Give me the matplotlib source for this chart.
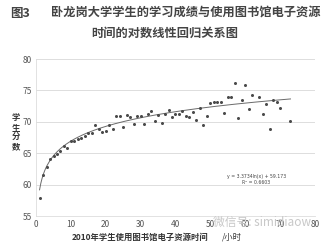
import numpy as np
import matplotlib
matplotlib.use("Agg")
import matplotlib.pyplot as plt

plt.rcParams['font.family'] = ['Noto Sans CJK SC', 'DejaVu Sans']

# hours of e-resource use vs mean student score
hours = [1, 2, 3, 4, 5, 6, 7, 8, 9, 10, 11, 12, 13, 14, 15, 16, 17, 18, 19, 20,
         21, 22, 23, 24, 25, 26, 27, 28, 29, 30, 31, 32, 33, 34, 35, 36, 37, 38, 39, 40,
         41, 42, 43, 44, 45, 46, 47, 48, 49, 50, 51, 52, 53, 54, 55, 56, 57, 58, 59, 60,
         61, 62, 64, 65, 66, 67, 68, 69, 70, 73]
scores = [57.8, 61.6, 62.8, 64.1, 64.5, 64.9, 65.3, 66.2, 65.8, 66.9,
          67.0, 67.2, 67.4, 67.7, 68.2, 68.2, 69.5, 68.9, 68.4, 68.6,
          69.5, 68.8, 70.9, 71.0, 69.1, 71.1, 70.8, 69.6, 71.0, 71.0,
          69.6, 71.2, 71.8, 70.2, 71.1, 69.8, 71.2, 71.9, 70.8, 71.2,
          71.2, 71.8, 71.0, 70.8, 71.6, 70.3, 72.2, 69.5, 71.0, 73.0,
          73.1, 73.1, 73.2, 71.4, 74.0, 74.0, 76.2, 70.6, 73.4, 75.8,
          72.0, 74.2, 74.0, 71.2, 72.9, 68.8, 73.4, 73.1, 72.2, 70.1]

# log trendline as printed on the chart
coef_a = 3.3734
coef_b = 59.173
r_squared = 0.6603

x_ticks = [0, 10, 20, 30, 40, 50, 60, 70, 80]
y_ticks = [55, 60, 65, 70, 75, 80]

fig = plt.figure(figsize=(3.28, 2.43), dpi=100)
ax = fig.add_axes([0.110, 0.111, 0.850, 0.646])

ax.plot(hours, scores, 'o', ms=2.2, color='#4a4a4a', mec='none', zorder=3)

xs = np.linspace(min(hours), max(hours), 200)
ax.plot(xs, coef_a*np.log(xs) + coef_b, color='#6a6a6a', lw=0.7, zorder=2)

ax.set_xlim(0, 80)
ax.set_ylim(55, 80)
ax.set_xticks(x_ticks)
ax.set_yticks(y_ticks)
ax.tick_params(length=0, labelsize=6, colors='#555555', pad=3)
ax.grid(axis='y', color='#d8d8d8', lw=0.6)
ax.set_axisbelow(True)
for s in ['top', 'right']:
    ax.spines[s].set_visible(False)
ax.spines['left'].set_color('#dddddd')
ax.spines['bottom'].set_color('#dddddd')
ax.spines['left'].set_linewidth(0.6)
ax.spines['bottom'].set_linewidth(0.6)

ax.text(0.79, 0.235, f"y = {coef_a}ln(x) + {coef_b}\nR² = {r_squared}",
        transform=ax.transAxes, fontsize=3.3, color='#444444',
        ha='center', va='center', linespacing=1.3, family='DejaVu Sans')

# titles and labels
fig.text(0.03, 0.945, "图3", fontsize=9, color='#444444', fontweight='bold', va='center')
fig.text(0.565, 0.945, "卧龙岗大学学生的学习成绩与使用图书馆电子资源",
         fontsize=8.8, color='#444444', fontweight='bold', ha='center', va='center')
fig.text(0.503, 0.865, "时间的对数线性回归关系图",
         fontsize=8.8, color='#444444', fontweight='bold', ha='center', va='center')
fig.text(0.049, 0.455, "学\n生\n分\n数", fontsize=6, color='#333333', fontweight='bold',
         ha='center', va='center', linespacing=1.1)
fig.text(0.22, 0.025, "2010年学生使用图书馆电子资源时间", fontsize=6, color='#333333',
         fontweight='bold', va='center')
fig.text(0.678, 0.025, "/小时", fontsize=6, color='#333333', va='center')

# watermark
fig.text(0.80, 0.085, "微信号: simidiaow", fontsize=8.5, color='#c8c8c8',
         ha='center', va='center')

fig.savefig("out.png", dpi=100, facecolor='white')
